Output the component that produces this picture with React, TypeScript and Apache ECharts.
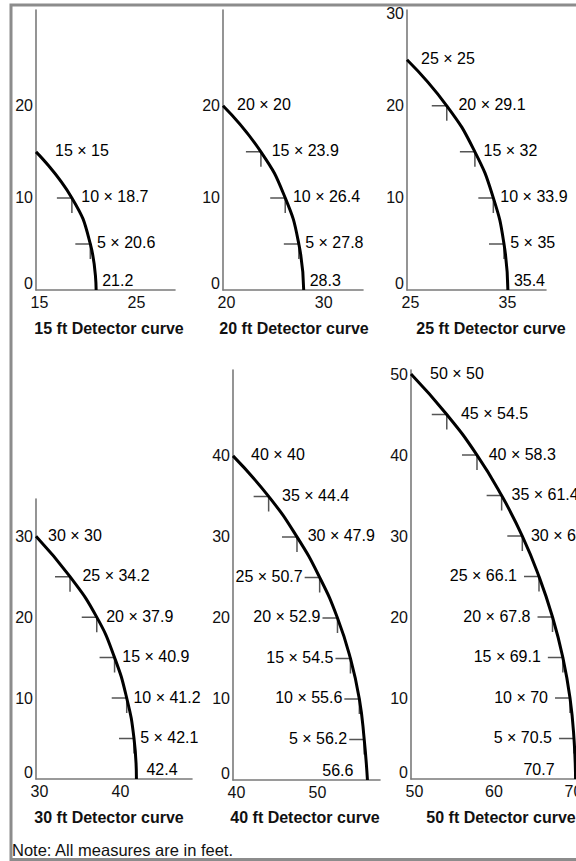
import React, { useEffect, useRef } from "react";
import * as echarts from "echarts";

const FONT = '"Liberation Sans", Arial, Helvetica, sans-serif';

// ---- Data (each point is "y × x" on the detector curve) ----
const ys15 = [15, 10, 5, 0];
const xs15 = [15, 18.7, 20.6, 21.2];
const labels15 = ["15 × 15", "10 × 18.7", "5 × 20.6", "21.2"];

const ys20 = [20, 15, 10, 5, 0];
const xs20 = [20, 23.9, 26.4, 27.8, 28.3];
const labels20 = ["20 × 20", "15 × 23.9", "10 × 26.4", "5 × 27.8", "28.3"];

const ys25 = [25, 20, 15, 10, 5, 0];
const xs25 = [25, 29.1, 32, 33.9, 35, 35.4];
const labels25 = ["25 × 25", "20 × 29.1", "15 × 32", "10 × 33.9", "5 × 35", "35.4"];

// positions (the printed labels differ slightly)
const ys30 = [30, 25, 20, 15, 10, 5, 0];
const xs30 = [30, 34.2, 37.5, 39.7, 41.2, 42.1, 42.4];
const labels30 = ["30 × 30", "25 × 34.2", "20 × 37.9", "15 × 40.9", "10 × 41.2", "5 × 42.1", "42.4"];

const ys40 = [40, 35, 30, 25, 20, 15, 10, 5, 0];
const xs40 = [40, 44.4, 47.9, 50.7, 52.9, 54.5, 55.6, 56.2, 56.6];
const labels40 = ["40 × 40", "35 × 44.4", "30 × 47.9", "25 × 50.7", "20 × 52.9", "15 × 54.5", "10 × 55.6", "5 × 56.2", "56.6"];

const ys50 = [50, 45, 40, 35, 30, 25, 20, 15, 10, 5, 0];
const xs50 = [50, 54.5, 58.3, 61.4, 64, 66.1, 67.8, 69.1, 70, 70.5, 70.7];
const labels50 = ["50 × 50", "45 × 54.5", "40 × 58.3", "35 × 61.4", "30 × 64", "25 × 66.1", "20 × 67.8", "15 × 69.1", "10 × 70", "5 × 70.5", "70.7"];

const titles = [
  "15 ft Detector curve",
  "20 ft Detector curve",
  "25 ft Detector curve",
  "30 ft Detector curve",
  "40 ft Detector curve",
  "50 ft Detector curve",
];

const xTickLabels = [[15, 25], [20, 30], [25, 35], [30, 40], [40, 50], [50, 60, 70]];
const yTickLabels = [[0, 10, 20], [0, 10, 20], [0, 10, 20, 30], [0, 10, 20, 30], [0, 10, 20, 30, 40], [0, 10, 20, 30, 40, 50]];
const noteText = "Note: All measures are in feet.";

const panelData = [
  { ys: ys15, xs: xs15, labels: labels15 },
  { ys: ys20, xs: xs20, labels: labels20 },
  { ys: ys25, xs: xs25, labels: labels25 },
  { ys: ys30, xs: xs30, labels: labels30 },
  { ys: ys40, xs: xs40, labels: labels40 },
  { ys: ys50, xs: xs50, labels: labels50 },
];

// ---- Layout / style (pixels) ----
const layouts = [
  { left: 36, top: 10, width: 139, height: 280, xMin: 15, xMax: 29.33, yMax: 30.4, titleX: 109, titleY: 328, topGap: 19, endSide: "right", endGap: 6, leftBelow: -1, leftGap: 0 },
  { left: 223, top: 10, width: 140, height: 280, xMin: 20, xMax: 34.4, yMax: 30.4, titleX: 294, titleY: 328, topGap: 14, endSide: "right", endGap: 6, leftBelow: -1, leftGap: 0 },
  { left: 407, top: 10, width: 139, height: 280, xMin: 25, xMax: 39.33, yMax: 30.4, titleX: 491, titleY: 328, topGap: 14, endSide: "right", endGap: 6, leftBelow: -1, leftGap: 0 },
  { left: 36, top: 499, width: 156, height: 280, xMin: 30, xMax: 49.26, yMax: 34.6, titleX: 109, titleY: 817, topGap: 12, endSide: "right", endGap: 10, leftBelow: -1, leftGap: 0 },
  { left: 233, top: 370, width: 147, height: 410, xMin: 40, xMax: 58.15, yMax: 50.6, titleX: 305, titleY: 817, topGap: 18, endSide: "left", endGap: 14, leftBelow: 25, leftGap: 17 },
  { left: 411, top: 370, width: 180, height: 409, xMin: 50, xMax: 72.64, yMax: 50.5, titleX: 501, titleY: 817, topGap: 19, endSide: "left", endGap: 21, leftBelow: 25, leftGap: 22 },
];

const TICK = 15;

function hasTick(list: number[], v: number) {
  return list.some((t) => Math.abs(t - v) < 1e-6);
}

function lab(side: string, gap: number, dy: number) {
  // position relative to a 1px symbol's box (top-left at -0.5,-0.5)
  if (side === "left") {
    return { position: [0.5 - gap, 0.5 + dy], align: "right", verticalAlign: "middle" };
  }
  return { position: [0.5 + gap, 0.5 + dy], align: "left", verticalAlign: "middle" };
}

function buildOption() {
  const grid: any[] = [];
  const xAxis: any[] = [];
  const yAxis: any[] = [];
  const series: any[] = [];
  const graphic: any[] = [];

  graphic.push({
    type: "rect",
    shape: { x: 11, y: 5, width: 640, height: 854.5 },
    style: { fill: "none", stroke: "#8c8c8c", lineWidth: 3 },
    silent: true,
  });

  panelData.forEach((p, i) => {
    const L = layouts[i];
    grid.push({ left: L.left, top: L.top, width: L.width, height: L.height, containLabel: false });
    const xt = xTickLabels[i];
    const yt = yTickLabels[i];
    xAxis.push({
      type: "value",
      gridIndex: i,
      min: L.xMin,
      max: L.xMax,
      interval: 10,
      axisLine: { show: true, onZero: false, lineStyle: { color: "#7a7a7a", width: 1.6 } },
      axisTick: { show: false },
      splitLine: { show: false },
      axisLabel: {
        show: true,
        margin: 4,
        padding: [0, 0, 0, 7],
        color: "#111",
        fontFamily: FONT,
        fontSize: 16,
        showMaxLabel: false,
        formatter: (v: number) => (hasTick(xt, v) ? String(v) : ""),
      },
    });
    yAxis.push({
      type: "value",
      gridIndex: i,
      min: 0,
      max: L.yMax,
      interval: 10,
      axisLine: { show: true, onZero: false, lineStyle: { color: "#7a7a7a", width: 1.6 } },
      axisTick: { show: false },
      splitLine: { show: false },
      axisLabel: {
        show: true,
        margin: 3,
        color: "#111",
        fontFamily: FONT,
        fontSize: 16,
        lineHeight: 14,
        showMaxLabel: false,
        formatter: (v: number) => (hasTick(yt, v) ? (v === 0 ? "0\n " : String(v)) : ""),
      },
    });

    const pts = p.xs.map((x, k) => [x, p.ys[k]]);

    // curve
    series.push({
      type: "line",
      xAxisIndex: i,
      yAxisIndex: i,
      data: pts,
      smooth: 0.5,
      symbol: "none",
      lineStyle: { color: "#000", width: 3 },
      silent: true,
      z: 4,
    });

    // tick marks at interior points
    series.push({
      type: "scatter",
      xAxisIndex: i,
      yAxisIndex: i,
      data: pts.slice(1, pts.length - 1),
      symbol: "path://M0,0H15V15",
      symbolSize: [TICK, TICK],
      symbolOffset: [-TICK / 2, TICK / 2],
      itemStyle: { color: "rgba(0,0,0,0)", borderColor: "#555", borderWidth: 1.5, opacity: 1 },
      silent: true,
      z: 3,
    });

    // labels
    const labelData = pts.map((pt, k) => {
      const [x, y] = pt;
      let label: any;
      if (k === 0) {
        label = lab("right", L.topGap, -1);
      } else if (y === 0) {
        label = lab(L.endSide, L.endGap, -10);
      } else if (y <= L.leftBelow) {
        label = lab("left", L.leftGap, -1);
      } else {
        const r = y / x;
        label = lab("right", 6 + 12 * r * r, -1);
      }
      return { value: pt, label };
    });
    const labs = p.labels;
    series.push({
      type: "scatter",
      xAxisIndex: i,
      yAxisIndex: i,
      data: labelData,
      symbolSize: 1,
      itemStyle: { color: "rgba(0,0,0,0)" },
      label: {
        show: true,
        color: "#000",
        opacity: 1,
        textBorderWidth: 0,
        fontFamily: FONT,
        fontSize: 16,
        formatter: (prm: any) => labs[prm.dataIndex],
      },
      silent: true,
      z: 5,
    });

    graphic.push({
      type: "text",
      x: L.titleX,
      y: L.titleY,
      silent: true,
      style: {
        text: titles[i],
        font: `bold 16px ${FONT}`,
        align: "center",
        verticalAlign: "middle",
        fill: "#111",
      },
    });
  });

  graphic.push({
    type: "text",
    x: 12,
    y: 850,
    silent: true,
    style: {
      text: noteText,
      font: `16.5px ${FONT}`,
      align: "left",
      verticalAlign: "middle",
      fill: "#111",
    },
  });

  return {
    animation: false,
    backgroundColor: "#fff",
    grid,
    xAxis,
    yAxis,
    series,
    graphic,
  };
}

export default function App() {
  const ref = useRef<HTMLDivElement>(null);
  useEffect(() => {
    if (!ref.current) return;
    const chart = echarts.init(ref.current, undefined, { renderer: "svg" });
    chart.setOption(buildOption() as any);
    return () => chart.dispose();
  }, []);
  return (
    <div
      style={{
        position: "fixed",
        left: 0,
        top: 0,
        width: 576,
        height: 861,
        overflow: "hidden",
        background: "#fff",
      }}
    >
      <div ref={ref} style={{ width: 660, height: 861 }} />
    </div>
  );
}
